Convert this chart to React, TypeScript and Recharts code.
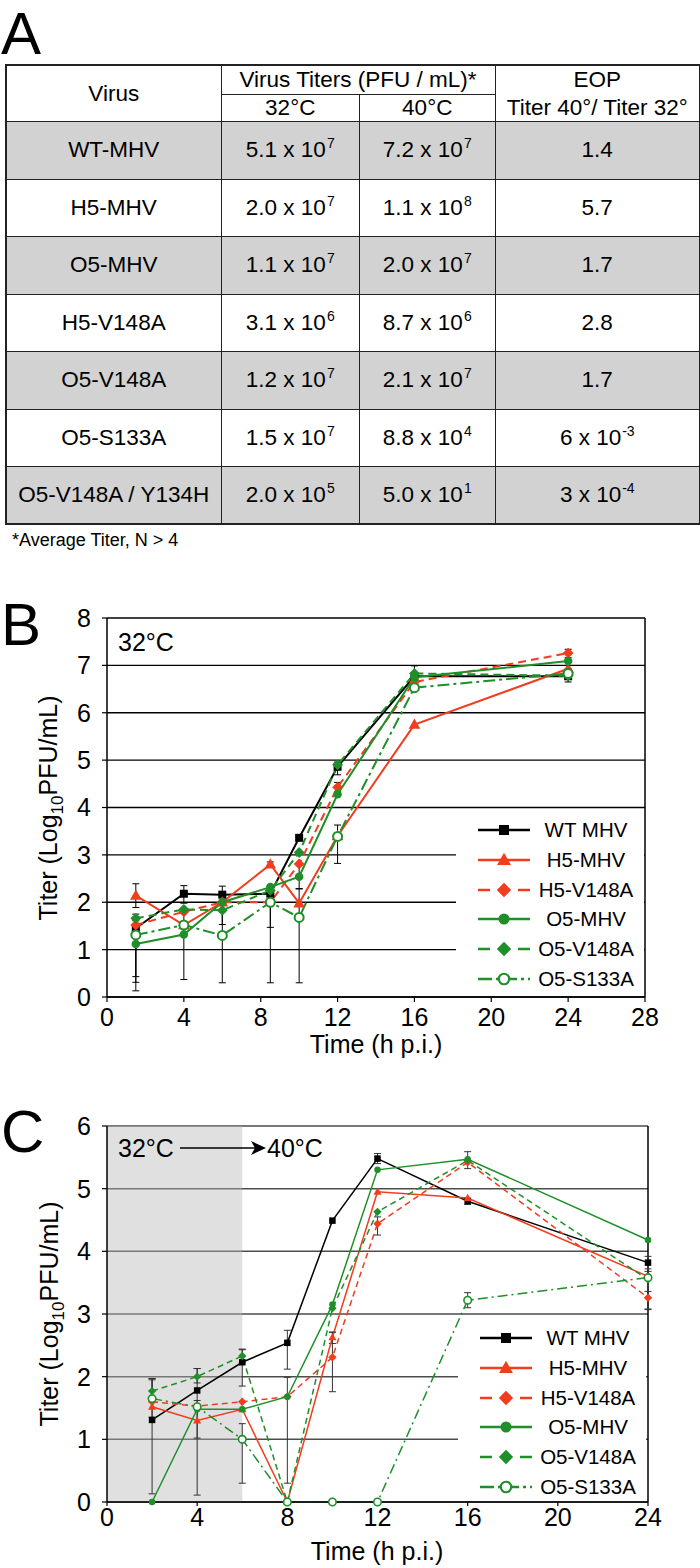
import React from 'react';
import {
  LineChart,
  Line,
  XAxis,
  YAxis,
  CartesianGrid,
  ErrorBar,
  ReferenceLine,
  ReferenceArea,
  Legend,
} from 'recharts';

const FONT = '"Liberation Sans", Arial, Helvetica, sans-serif';
const RED = '#f23c1e';
const GREEN = '#1f8f2a';
const BLACK = '#000000';

// ---------- Panel A table ----------
const virusNames = ['WT-MHV', 'H5-MHV', 'O5-MHV', 'H5-V148A', 'O5-V148A', 'O5-S133A', 'O5-V148A / Y134H'];
const titer32Mant = ['5.1', '2.0', '1.1', '3.1', '1.2', '1.5', '2.0'];
const titer32Exp = ['7', '7', '7', '6', '7', '7', '5'];
const titer40Mant = ['7.2', '1.1', '2.0', '8.7', '2.1', '8.8', '5.0'];
const titer40Exp = ['7', '8', '7', '6', '7', '4', '1'];
const eopMant = ['1.4', '5.7', '1.7', '2.8', '1.7', '6', '3'];
const eopExp: (string | null)[] = [null, null, null, null, null, '-3', '-4'];

// ---------- Panel B (32°C) ----------
const timesB = [1.5, 4, 6, 8.5, 10, 12, 16, 24];
const xTicksB = [0, 4, 8, 12, 16, 20, 24, 28];
const yTicksB = [0, 1, 2, 3, 4, 5, 6, 7, 8];
const wtB = [1.45, 2.18, 2.16, 2.18, 3.36, 4.86, 6.77, 6.77];
const h5B = [2.14, 1.52, 2.0, 2.8, 1.98, 3.4, 5.75, 6.93];
const h5vB = [1.52, 1.8, 2.0, 2.0, 2.81, 4.43, 6.65, 7.26];
const o5B = [1.12, 1.32, 2.0, 2.32, 2.54, 4.28, 6.75, 7.09];
const o5vB = [1.66, 1.85, 1.83, 2.25, 3.05, 4.9, 6.83, 6.78];
const o5sB = [1.31, 1.52, 1.3, 2.0, 1.68, 3.39, 6.53, 6.83];
const wtErrB = [[1.02, 0.3], [0.2, 0.17], [0.2, 0.18], null, null, [0.17, 0.1], [0.1, 0.22], null];
const h5ErrB = [[0.25, 0.25], null, null, [0.05, 0.05], null, null, null, null];
const h5vErrB = [null, null, null, null, null, [0.1, 0.1], null, [0.1, 0.08]];
const o5ErrB = [[0.99, 0.3], null, null, [0.85, 0], [0.25, 0.25], null, null, null];
const o5vErrB = [null, null, [0.3, 0.3], null, null, null, null, null];
const o5sErrB = [[1.0, 0.3], [1.15, 0.3], [1.0, 0.5], [1.7, 0], [1.38, 0.6], [0.57, 0.24], null, [0.18, 0.1]];

// ---------- Panel C (32°C -> 40°C) ----------
const timesC = [2, 4, 6, 8, 10, 12, 16, 24];
const xTicksC = [0, 4, 8, 12, 16, 20, 24];
const yTicksC = [0, 1, 2, 3, 4, 5, 6];
const shiftStart = 0;
const shiftTime = 6;
const wtC = [1.31, 1.78, 2.23, 2.54, 4.49, 5.48, 4.8, 3.82];
const h5C = [1.52, 1.3, 1.48, 0, 2.63, 4.95, 4.85, 3.6];
const h5vC = [1.6, 1.53, 1.6, 1.68, 2.31, 4.44, 5.42, 3.26];
const o5C = [0, 1.48, 1.48, 1.68, 3.15, 5.3, 5.47, 4.18];
const o5vC = [1.77, 2.0, 2.33, 0, 3.09, 4.63, 5.45, 3.55];
const o5sC = [1.65, 1.52, 1.0, 0, 0, 0, 3.22, 3.58];
const wtErrC = [[1.18, 0.66], [1.67, 0.35], [0.38, 0.21], [0.42, 0.2], null, [0.08, 0.08], [0.05, 0.05], [0.1, 0.1]];
const h5ErrC = [null, null, null, null, [0.1, 0.08], null, null, null];
const h5vErrC = [null, null, null, [1.38, 0.31], [0.55, 0.4], [0.18, 0.11], null, [0.19, 0.1]];
const o5ErrC = [null, null, null, null, null, null, [0.15, 0.12], null];
const o5vErrC = [[0.1, 0.2], [0.1, 0.13], [0.1, 0.1], null, null, null, null, null];
const o5sErrC = [[0.3, 0.3], [0.5, 0.1], [0.7, 0.25], null, null, null, [0.12, 0.12], [0.5, 0.1]];

type Kind = 'square' | 'triangle' | 'diamond' | 'circle' | 'open';
type Series = {
  key: string;
  name: string;
  color: string;
  kind: Kind;
  style: 'solid' | 'dash' | 'dashdot';
  values: number[];
  errors: (number[] | null)[];
};

const seriesB: Series[] = [
  { key: 'wt', name: 'WT MHV', color: BLACK, kind: 'square', style: 'solid', values: wtB, errors: wtErrB },
  { key: 'h5', name: 'H5-MHV', color: RED, kind: 'triangle', style: 'solid', values: h5B, errors: h5ErrB },
  { key: 'h5v', name: 'H5-V148A', color: RED, kind: 'diamond', style: 'dash', values: h5vB, errors: h5vErrB },
  { key: 'o5', name: 'O5-MHV', color: GREEN, kind: 'circle', style: 'solid', values: o5B, errors: o5ErrB },
  { key: 'o5v', name: 'O5-V148A', color: GREEN, kind: 'diamond', style: 'dash', values: o5vB, errors: o5vErrB },
  { key: 'o5s', name: 'O5-S133A', color: GREEN, kind: 'open', style: 'dashdot', values: o5sB, errors: o5sErrB },
];

const seriesC: Series[] = [
  { key: 'wt', name: 'WT MHV', color: BLACK, kind: 'square', style: 'solid', values: wtC, errors: wtErrC },
  { key: 'h5', name: 'H5-MHV', color: RED, kind: 'triangle', style: 'solid', values: h5C, errors: h5ErrC },
  { key: 'h5v', name: 'H5-V148A', color: RED, kind: 'diamond', style: 'dash', values: h5vC, errors: h5vErrC },
  { key: 'o5', name: 'O5-MHV', color: GREEN, kind: 'circle', style: 'solid', values: o5C, errors: o5ErrC },
  { key: 'o5v', name: 'O5-V148A', color: GREEN, kind: 'diamond', style: 'dash', values: o5vC, errors: o5vErrC },
  { key: 'o5s', name: 'O5-S133A', color: GREEN, kind: 'open', style: 'dashdot', values: o5sC, errors: o5sErrC },
];

function buildRows(times: number[], series: Series[]) {
  return times.map((t, i) => {
    const r: any = { t };
    series.forEach((s) => {
      r[s.key] = s.values[i];
      r[s.key + 'Err'] = s.errors[i];
    });
    return r;
  });
}

const rowsB = buildRows(timesB, seriesB);
const rowsC = buildRows(timesC, seriesC);

function marker(kind: Kind, cx: number, cy: number, color: string, size: number, sw: number, key?: any) {
  if (cx == null || cy == null || isNaN(cx) || isNaN(cy)) return <g key={key} />;
  const s = size;
  switch (kind) {
    case 'square':
      return <rect key={key} x={cx - s / 2} y={cy - s / 2} width={s} height={s} fill={color} />;
    case 'triangle':
      return (
        <polygon
          key={key}
          points={`${cx},${cy - 0.6 * s} ${cx + 0.58 * s},${cy + 0.42 * s} ${cx - 0.58 * s},${cy + 0.42 * s}`}
          fill={color}
        />
      );
    case 'diamond':
      return (
        <polygon
          key={key}
          points={`${cx},${cy - 0.6 * s} ${cx + 0.6 * s},${cy} ${cx},${cy + 0.6 * s} ${cx - 0.6 * s},${cy}`}
          fill={color}
        />
      );
    case 'circle':
      return <circle key={key} cx={cx} cy={cy} r={s / 2} fill={color} />;
    case 'open':
    default:
      return <circle key={key} cx={cx} cy={cy} r={s / 2} fill="#ffffff" stroke={color} strokeWidth={sw} />;
  }
}

function dashFor(style: string, big: boolean) {
  if (style === 'dash') return big ? '8 5' : '6 4';
  if (style === 'dashdot') return big ? '12 4 3 4' : '10 4 2 4';
  return undefined;
}

function legendDash(style: string) {
  if (style === 'dash') return '12 28';
  if (style === 'dashdot') return '14 4 3 4';
  return undefined;
}

function LegendBox({ series, padTop }: { series: Series[]; padTop: number }) {
  const sizes: Record<Kind, number> = { square: 10, triangle: 12, diamond: 12, circle: 11, open: 10.5 };
  return (
    <div
      style={{
        width: '100%',
        height: '100%',
        background: '#ffffff',
        paddingTop: padTop,
        boxSizing: 'border-box',
        fontFamily: FONT,
      }}
    >
      {series.map((s) => (
        <div key={s.key} style={{ position: 'relative', height: 29.8 }}>
          <svg width={60} height={30} style={{ position: 'absolute', left: 20, top: 0, overflow: 'visible' }}>
            <line x1={2} y1={15} x2={54} y2={15} stroke={s.color} strokeWidth={2.6} strokeDasharray={legendDash(s.style)} />
            {marker(s.kind, 28, 15, s.color, sizes[s.kind], 2.2)}
          </svg>
          <div
            style={{
              position: 'absolute',
              left: 80,
              width: 100,
              top: 0,
              height: 29.8,
              lineHeight: '29.8px',
              textAlign: 'center',
              fontSize: 20.5,
              color: '#000',
              whiteSpace: 'nowrap',
            }}
          >
            {s.name}
          </div>
        </div>
      ))}
    </div>
  );
}

function Sup({ children }: { children: any }) {
  return <span style={{ fontSize: 14, position: 'relative', top: -9, marginLeft: 1 }}>{children}</span>;
}

function TableA() {
  const cell: React.CSSProperties = {
    border: '1.5px solid #222',
    textAlign: 'center',
    verticalAlign: 'middle',
    padding: 0,
    whiteSpace: 'nowrap',
  };
  return (
    <table
      style={{
        position: 'absolute',
        left: 5,
        top: 64,
        width: 694,
        borderCollapse: 'collapse',
        tableLayout: 'fixed',
        fontFamily: FONT,
        fontSize: 22.5,
        color: '#000',
        border: '2px solid #222',
      }}
    >
      <colgroup>
        <col style={{ width: 215 }} />
        <col style={{ width: 138.5 }} />
        <col style={{ width: 135.5 }} />
        <col style={{ width: 205 }} />
      </colgroup>
      <tbody>
        <tr style={{ height: 28.7 }}>
          <td rowSpan={2} style={cell}>Virus</td>
          <td colSpan={2} style={{ ...cell, lineHeight: '26px' }}>Virus Titers (PFU / mL)*</td>
          <td rowSpan={2} style={{ ...cell, lineHeight: '27.5px' }}>
            EOP
            <br />
            Titer 40°/ Titer 32°
          </td>
        </tr>
        <tr style={{ height: 26.6 }}>
          <td style={{ ...cell, lineHeight: '25px' }}>32°C</td>
          <td style={{ ...cell, lineHeight: '25px' }}>40°C</td>
        </tr>
        {virusNames.map((v, i) => {
          const bg = i % 2 === 0 ? '#d2d2d2' : '#ffffff';
          const c = { ...cell, background: bg };
          return (
            <tr key={v} style={{ height: 57.5 }}>
              <td style={c}>{v}</td>
              <td style={c}>
                {titer32Mant[i]} x 10<Sup>{titer32Exp[i]}</Sup>
              </td>
              <td style={c}>
                {titer40Mant[i]} x 10<Sup>{titer40Exp[i]}</Sup>
              </td>
              <td style={c}>
                {eopExp[i] ? (
                  <>
                    {eopMant[i]} x 10<Sup>{eopExp[i]}</Sup>
                  </>
                ) : (
                  eopMant[i]
                )}
              </td>
            </tr>
          );
        })}
      </tbody>
    </table>
  );
}

const tickStyle = { fontSize: 25, fill: '#000', fontFamily: FONT };

function ChartB() {
  const sizes: Record<Kind, number> = { square: 8, triangle: 10, diamond: 9, circle: 8.5, open: 9 };
  return (
    <div style={{ position: 'absolute', left: 0, top: 570 }}>
      <LineChart
        width={700}
        height={480}
        data={rowsB}
        margin={{ top: 48, right: 55, left: 47, bottom: 23 }}
        style={{ fontFamily: FONT }}
      >
        <CartesianGrid vertical={false} stroke="#000" strokeWidth={1.3} />
        <XAxis
          type="number"
          dataKey="t"
          domain={[0, 28]}
          ticks={xTicksB}
          interval={0}
          height={30}
          tick={tickStyle}
          tickSize={5}
          tickMargin={6}
          axisLine={{ stroke: '#000', strokeWidth: 1.5 }}
          tickLine={{ stroke: '#000', strokeWidth: 1.2 }}
        />
        <YAxis
          type="number"
          domain={[0, 8]}
          ticks={yTicksB}
          interval={0}
          width={60}
          tick={tickStyle}
          tickSize={5}
          tickMargin={11}
          axisLine={{ stroke: '#000', strokeWidth: 1.5 }}
          tickLine={{ stroke: '#000', strokeWidth: 1.2 }}
        />
        <ReferenceLine x={28} stroke="#000" strokeWidth={1.5} />
        {seriesB.map((s) => (
          <Line
            key={s.key}
            type="linear"
            dataKey={s.key}
            name={s.name}
            stroke={s.color}
            strokeWidth={2}
            strokeDasharray={dashFor(s.style, true)}
            isAnimationActive={false}
            activeDot={false}
            dot={(p: any) => marker(s.kind, p.cx, p.cy, s.color, sizes[s.kind], 2, `${s.key}-${p.index}`)}
          >
            <ErrorBar dataKey={s.key + 'Err'} direction="y" width={3.5} stroke="#000" strokeWidth={1} />
          </Line>
        ))}
        <Legend
          layout="vertical"
          align="center"
          verticalAlign="middle"
          wrapperStyle={{ left: 456, top: 243, width: 188, height: 182, margin: 0 }}
          content={() => <LegendBox series={seriesB} padTop={2} />}
        />
      </LineChart>
    </div>
  );
}

function ChartC() {
  const sizes: Record<Kind, number> = { square: 6.5, triangle: 7, diamond: 7, circle: 6.5, open: 7.5 };
  return (
    <div style={{ position: 'absolute', left: 0, top: 1080 }}>
      <LineChart
        width={700}
        height={475}
        data={rowsC}
        margin={{ top: 46, right: 52, left: 47, bottom: 23 }}
        style={{ fontFamily: FONT }}
      >
        <ReferenceArea
          x1={shiftStart}
          x2={shiftTime}
          y1={0}
          y2={6}
          fill="#b4b4b4"
          fillOpacity={0.42}
          stroke="none"
          ifOverflow="visible"
        />
        <CartesianGrid vertical={false} stroke="#4d4d4d" strokeWidth={1.5} />
        <XAxis
          type="number"
          dataKey="t"
          domain={[0, 24]}
          ticks={xTicksC}
          interval={0}
          height={30}
          tick={tickStyle}
          tickSize={4}
          tickMargin={2}
          axisLine={{ stroke: '#000', strokeWidth: 1.5 }}
          tickLine={{ stroke: '#000', strokeWidth: 1.2 }}
        />
        <YAxis
          type="number"
          domain={[0, 6]}
          ticks={yTicksC}
          interval={0}
          width={60}
          tick={tickStyle}
          tickSize={5}
          tickMargin={11}
          axisLine={{ stroke: '#000', strokeWidth: 1.5 }}
          tickLine={{ stroke: '#000', strokeWidth: 1.2 }}
        />
        <ReferenceLine x={24} stroke="#000" strokeWidth={1.5} />
        {seriesC.map((s) => (
          <Line
            key={s.key}
            type="linear"
            dataKey={s.key}
            name={s.name}
            stroke={s.color}
            strokeWidth={1.5}
            strokeDasharray={dashFor(s.style, false)}
            isAnimationActive={false}
            activeDot={false}
            dot={(p: any) => marker(s.kind, p.cx, p.cy, s.color, sizes[s.kind], 1.6, `${s.key}-${p.index}`)}
          >
            <ErrorBar dataKey={s.key + 'Err'} direction="y" width={3.5} stroke="#333" strokeWidth={1} />
          </Line>
        ))}
        <Legend
          layout="vertical"
          align="center"
          verticalAlign="middle"
          wrapperStyle={{ left: 458, top: 243, width: 188, height: 177, margin: 0 }}
          content={() => <LegendBox series={seriesC} padTop={0} />}
        />
      </LineChart>
    </div>
  );
}

function YTitle({ x, y }: { x: number; y: number }) {
  return (
    <text x={x} y={y} transform={`rotate(-90 ${x} ${y})`} textAnchor="middle" fontSize={25} fontFamily={FONT} fill="#000">
      Titer (Log
      <tspan fontSize={17} dy={6}>10</tspan>
      <tspan dy={-6}>PFU/mL)</tspan>
    </text>
  );
}

export default function App() {
  return (
    <div
      style={{
        position: 'absolute',
        left: 0,
        top: 0,
        width: 700,
        height: 1568,
        background: '#ffffff',
        overflow: 'hidden',
        fontFamily: FONT,
      }}
    >
      <TableA />
      <ChartB />
      <ChartC />
      <svg
        width={700}
        height={1568}
        style={{ position: 'absolute', left: 0, top: 0, pointerEvents: 'none' }}
      >
        <text x={1} y={54} fontSize={60} fontFamily={FONT} fill="#000">A</text>
        <text x={12} y={546} fontSize={18} fontFamily={FONT} fill="#000">*Average Titer, N &gt; 4</text>

        <text x={1} y={645} fontSize={60} fontFamily={FONT} fill="#000">B</text>
        <text x={118} y={651} fontSize={25} fontFamily={FONT} fill="#000">32°C</text>
        <YTitle x={57} y={808} />
        <text x={376} y={1053} textAnchor="middle" fontSize={25} fontFamily={FONT} fill="#000">Time (h p.i.)</text>

        <text x={1} y={1152} fontSize={60} fontFamily={FONT} fill="#000">C</text>
        <text x={118} y={1157} fontSize={25} fontFamily={FONT} fill="#000">32°C</text>
        <line x1={180} y1={1148} x2={256} y2={1148} stroke="#000" strokeWidth={1.5} />
        <polygon points="266,1148 251,1141 255,1148 251,1155" fill="#000" />
        <text x={267} y={1157} fontSize={25} fontFamily={FONT} fill="#000">40°C</text>
        <YTitle x={58} y={1314} />
        <text x={377} y={1560} textAnchor="middle" fontSize={25} fontFamily={FONT} fill="#000">Time (h p.i.)</text>
      </svg>
    </div>
  );
}
